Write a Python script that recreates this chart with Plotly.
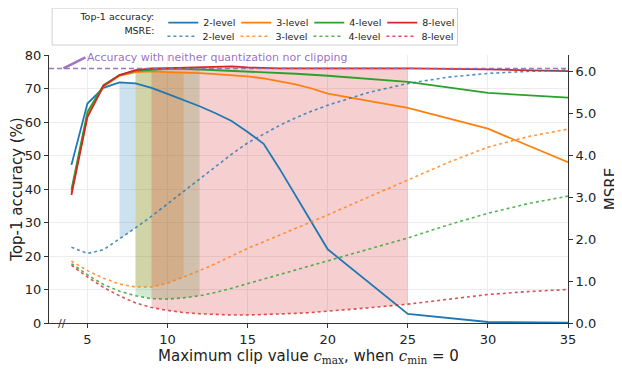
import plotly.graph_objects as go

# data
x_acc = [4, 5, 6, 7, 8, 9, 10, 11, 12, 13, 14, 15, 16, 17, 18, 19, 20, 25, 30, 35]
acc_2 = [47.2, 65.5, 70.2, 71.8, 71.5, 70.2, 68.4, 66.6, 64.7, 62.6, 60.3, 57.0, 53.5, 46.0, 38.0, 30.0, 22.0, 2.7, 0.3, 0.1]
acc_3 = [39.0, 62.0, 70.6, 73.8, 74.9, 75.1, 74.9, 74.8, 74.6, 74.3, 74.0, 73.6, 73.0, 72.2, 71.2, 70.0, 68.5, 64.2, 58.0, 48.0]
acc_4 = [39.8, 63.0, 71.0, 74.0, 75.3, 75.7, 75.9, 75.9, 75.7, 75.5, 75.4, 75.1, 74.9, 74.7, 74.4, 74.1, 73.8, 72.0, 68.7, 67.3]
acc_8 = [38.2, 61.5, 70.8, 74.0, 75.5, 76.0, 76.1, 76.2, 76.2, 76.4, 76.6, 76.3, 76.1, 76.0, 76.0, 76.0, 76.0, 76.0, 75.7, 75.2]

x_msre = [4, 5, 6, 7, 8, 9, 10, 11, 12, 13, 14, 15, 16, 17, 18, 19, 20, 22.5, 25, 27.5, 30, 32.5, 35]
msre_2 = [1.81, 1.66, 1.75, 2.0, 2.27, 2.55, 2.85, 3.15, 3.45, 3.75, 4.03, 4.3, 4.52, 4.72, 4.9, 5.06, 5.2, 5.5, 5.72, 5.87, 5.96, 6.01, 6.04]
msre_3 = [1.48, 1.25, 1.07, 0.93, 0.86, 0.86, 0.95, 1.1, 1.25, 1.42, 1.6, 1.78, 1.94, 2.1, 2.26, 2.42, 2.58, 3.0, 3.41, 3.83, 4.2, 4.45, 4.63]
msre_4 = [1.42, 1.15, 0.92, 0.76, 0.65, 0.58, 0.57, 0.6, 0.65, 0.73, 0.83, 0.94, 1.05, 1.16, 1.27, 1.38, 1.48, 1.77, 2.03, 2.34, 2.62, 2.85, 3.03]
msre_8 = [1.38, 1.1, 0.85, 0.65, 0.48, 0.37, 0.3, 0.25, 0.22, 0.2, 0.19, 0.19, 0.2, 0.21, 0.23, 0.25, 0.28, 0.36, 0.45, 0.57, 0.68, 0.75, 0.8]

# clip ranges highlighted for each quantization level
span_lo = [7, 8, 8, 9]
span_hi = [8, 11, 12, 25]

baseline_acc = 76.0
levels = ["2-level", "3-level", "4-level", "8-level"]
colors = [(31, 119, 180), (255, 127, 14), (44, 160, 44), (214, 39, 40)]

acc_range = [0, 80]
msre_range = [0, 6.4]
x_range = [2.6, 35]
scale = acc_range[1] / msre_range[1]  # msre -> left axis units

accs = [acc_2, acc_3, acc_4, acc_8]
msres = [msre_2, msre_3, msre_4, msre_8]

font = "DejaVu Sans"
serif = "font-family:DejaVu Serif"
fig = go.Figure()

# shaded regions between accuracy curve and msre curve
for acc, msre, lo, hi, c in zip(accs, msres, span_lo, span_hi, colors):
    top = [(x, y) for x, y in zip(x_acc, acc) if lo <= x <= hi]
    bot = [(x, m * scale) for x, m in zip(x_msre, msre) if lo <= x <= hi][::-1]
    pts = top + bot
    fig.add_trace(go.Scatter(
        x=[p[0] for p in pts], y=[p[1] for p in pts],
        fill="toself", fillcolor="rgba(%d,%d,%d,0.22)" % c,
        line=dict(width=0), mode="lines", hoverinfo="skip", showlegend=False))

for acc, name, c in zip(accs, levels, colors):
    fig.add_trace(go.Scatter(
        x=x_acc, y=acc, mode="lines", name=name,
        line=dict(color="rgb(%d,%d,%d)" % c, width=1.8), legend="legend"))

for msre, name, c in zip(msres, levels, colors):
    fig.add_trace(go.Scatter(
        x=x_msre, y=msre, mode="lines", name=name, yaxis="y2",
        line=dict(color="rgba(%d,%d,%d,0.8)" % c, width=1.6, dash="dot"),
        legend="legend2"))

fig.add_hline(y=baseline_acc, line=dict(color="rgba(148,103,189,0.9)", width=1.5, dash="5px,3px"))

axis_common = dict(
    showline=True, linecolor="#333333", linewidth=1,
    ticks="outside", ticklen=4, tickcolor="#333333",
    tickfont=dict(family=font, size=13, color="#222222"),
    zeroline=False,
)

xtitle = ('Maximum clip value <span style="%s"><i>c</i><sub>max</sub></span>, when '
          '<span style="%s"><i>c</i><sub>min</sub></span> = 0') % (serif, serif)

# page body has an 8px margin, so the figure is a bit smaller than the window
fig.update_layout(
    width=614, height=362,
    margin=dict(l=41, r=54, t=47, b=47, autoexpand=False),
    plot_bgcolor="white", paper_bgcolor="white",
    font=dict(family=font, color="#222222"),
    xaxis=dict(
        range=x_range, tickvals=[5, 10, 15, 20, 25, 30, 35],
        showgrid=True, gridcolor="#ececec", gridwidth=1,
        title=dict(text=xtitle, font=dict(family=font, size=15), standoff=2),
        **axis_common),
    yaxis=dict(
        range=acc_range, dtick=10, showgrid=True, gridcolor="#ececec", gridwidth=1,
        title=dict(text="Top-1 accuracy (%)", font=dict(family=font, size=15), standoff=0),
        **axis_common),
    yaxis2=dict(
        range=msre_range, dtick=1, tickformat=".1f", overlaying="y", side="right",
        showgrid=False,
        title=dict(text="MSRE", font=dict(family=font, size=15), standoff=10),
        **axis_common),
    legend=dict(
        orientation="h", x=0.783, xanchor="right", y=1.175, yanchor="top",
        entrywidth=28, bgcolor="rgba(0,0,0,0)",
        title=dict(text="Top-1 accuracy:", side="left", font=dict(family=font, size=9.5)),
        font=dict(family=font, size=9.5), tracegroupgap=0),
    legend2=dict(
        orientation="h", x=0.783, xanchor="right", y=1.124, yanchor="top",
        entrywidth=28, bgcolor="rgba(0,0,0,0)",
        title=dict(text="MSRE:", side="left", font=dict(family=font, size=9.5)),
        font=dict(family=font, size=9.5), tracegroupgap=0),
    showlegend=True,
)

# frame around the two legend rows
fig.add_shape(type="rect", xref="paper", yref="paper",
              x0=0.006, x1=0.787, y0=1.037, y1=1.175,
              line=dict(color="#d0d0d0", width=1), fillcolor="rgba(0,0,0,0)", layer="below")

fig.add_annotation(
    x=3.5, y=baseline_acc, xref="x", yref="y",
    text="Accuracy with neither quantization nor clipping",
    font=dict(family=font, size=11, color="rgba(148,103,189,0.95)"),
    showarrow=True, arrowhead=0, arrowwidth=2.5, arrowcolor="rgba(148,103,189,0.9)",
    ax=22, ay=-11, xanchor="left", yanchor="middle")

# axis break marker
fig.add_annotation(x=3.4, y=0, xref="x", yref="y", text="//", showarrow=False,
                   font=dict(family=font, size=11, color="#333333"), yanchor="middle")

fig.write_html("out.html")
